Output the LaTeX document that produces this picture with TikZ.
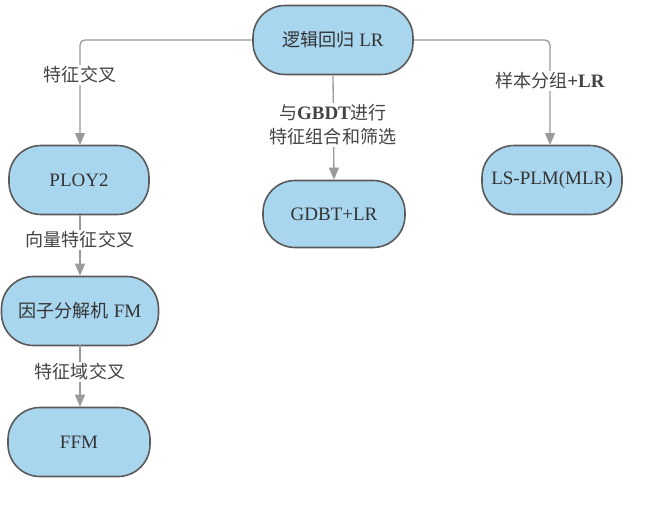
\documentclass[tikz,border=0pt]{standalone}
\usepackage{fontspec}
\setmainfont{Liberation Serif}
\newfontfamily\cjk{Noto Sans CJK SC}[Scale=0.95]
\usetikzlibrary{arrows.meta}
\definecolor{boxfill}{HTML}{A9D6EF}
\definecolor{boxline}{HTML}{5A5A5A}
\definecolor{linegray}{HTML}{9A9A9A}
\definecolor{txt}{HTML}{333333}
\definecolor{lbl}{HTML}{444444}
\begin{document}
\begin{tikzpicture}[x=1pt,y=-1pt,
  box/.style={draw=boxline,line width=1.6pt,fill=boxfill,rounded corners=32pt,
    minimum height=69pt,text=txt,font=\fontsize{19}{22}\selectfont,inner sep=0pt},
  conn/.style={draw=linegray,line width=1.3pt,rounded corners=5pt,
    -{Triangle[width=10pt,length=12pt]}},
  lab/.style={fill=white,text=lbl,font=\fontsize{19}{25}\selectfont,align=center,inner sep=2pt}]
\useasboundingbox (0,0) rectangle (646,509);
\node[box,minimum width=160pt] (lr) at (333,40) {{\cjk 逻辑回归} LR};
\node[box,minimum width=140pt] (ploy) at (79,180) {PLOY2};
\node[box,minimum width=157pt] (fm) at (80,311) {{\cjk 因子分解机} FM};
\node[box,minimum width=142pt] (ffm) at (79,442) {FFM};
\node[box,minimum width=142pt,minimum height=67pt] (gdbt) at (334,214) {GDBT+LR};
\node[box,minimum width=140pt] (ls) at (552,180) {LS-PLM(MLR)};
\coordinate (ploytop) at (80,145);
\coordinate (lstop) at (550,145);
\draw[conn] (lr.west) -| (ploytop);
\draw[conn] (lr.east) -| (lstop);
\draw[conn] (lr.south) -- (gdbt.north);
\draw[conn] (80,215) -- (fm.north -| 80,0);
\draw[conn] (80,345) -- (ffm.north -| 80,0);
\node[lab] (l1) at (80,75) {\cjk 特征交叉};
\node[lab] (l2) at (333,125) {{\cjk 与}\textbf{GBDT}{\cjk 进行}\\[-1pt]{\cjk 特征组合和筛选}};
\node[lab] (l3) at (550,81) {{\cjk 样本分组}\textbf{+LR}};
\node[lab] (l4) at (80,240) {\cjk 向量特征交叉};
\node[lab] (l5) at (80,372) {\cjk 特征域交叉};
\end{tikzpicture}
\end{document}
